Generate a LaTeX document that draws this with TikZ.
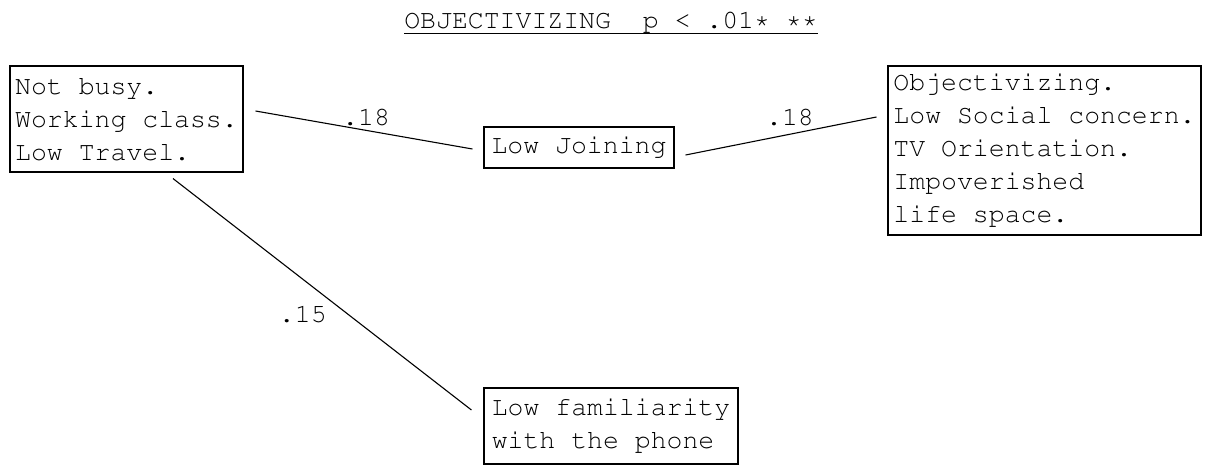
\documentclass[tikz,border=0pt]{standalone}
\usepackage[T1]{fontenc}
\usepackage{courier}
\renewcommand{\familydefault}{\ttdefault}
\frenchspacing
\begin{document}
\begin{tikzpicture}[x=1pt,y=-1pt,
  font=\fontsize{26.5}{33}\selectfont,
  box/.style={draw, line width=1.1pt, align=left, inner sep=0pt},
  conn/.style={line width=1.1pt},
  lbl/.style={inner sep=0pt}]
\useasboundingbox (0,0) rectangle (1211,466);
% title
\node[inner sep=0pt, anchor=base] (title) at (611,28) {OBJECTIVIZING~~p < .01* **};
\draw[line width=1pt] ([yshift=-5pt]title.base west) -- ([yshift=-5pt]title.base east);
% boxes
\node[box, minimum width=233pt, minimum height=106pt] (A) at (126.5,119) {Not busy.\\Working class.\\Low Travel.};
\node[box, minimum width=190pt, minimum height=41pt] (B) at (579,147.5) {Low Joining};
\node[box, minimum width=313pt, minimum height=169pt] (C) at (1044.5,150.5) {Objectivizing.\\Low Social concern.\\TV Orientation.\\Impoverished\\life space.};
\node[box, minimum width=254pt, minimum height=76pt] (D) at (611,426) {Low familiarity\\with the phone};
% connectors
\draw[conn] ([xshift=12pt,yshift=8pt]A.east) -- node[lbl, pos=0.51, yshift=13.6pt] (l1) {.18} ([xshift=-11pt,yshift=-1.5pt]B.west);
\draw[conn] ([xshift=11pt,yshift=-7.5pt]B.east) -- node[lbl, pos=0.547, yshift=17pt] (l2) {.18} ([xshift=-11pt,yshift=33.5pt]C.west);
\draw[conn] ([xshift=46.5pt,yshift=-6pt]A.south) -- node[lbl, pos=0.435, yshift=-35pt] (l3) {.15} ([xshift=-12pt,yshift=16pt]D.west);
\end{tikzpicture}
\end{document}
